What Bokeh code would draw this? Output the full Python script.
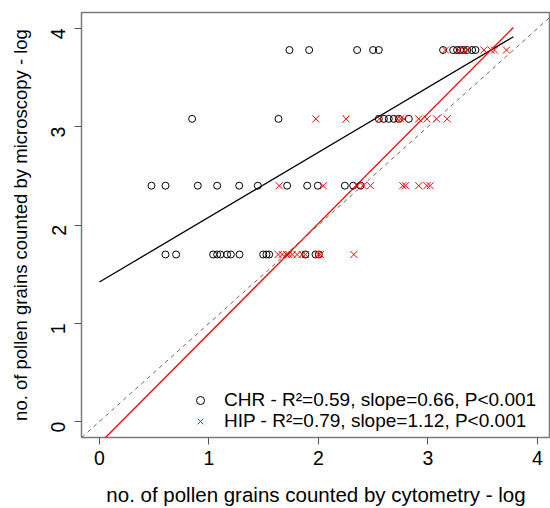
import math
from bokeh.plotting import figure
from bokeh.models import Range1d, Slope, Legend, LegendItem, FixedTicker
from bokeh.embed import file_html
from bokeh.resources import INLINE

# CHR (circles)
chr_x = [1.735, 1.915, 2.353, 2.499, 2.551, 3.138, 3.23, 3.266, 3.297, 3.327, 3.358, 3.403, 3.434,
         0.846, 1.635, 2.551, 2.597, 2.642, 2.688, 2.733, 2.825,
         0.475, 0.603, 0.898, 1.075, 1.276, 1.446, 1.714, 1.897, 1.994, 2.241, 2.317, 2.384,
         0.603, 0.70, 1.038, 1.075, 1.105, 1.166, 1.20, 1.279, 1.495, 1.525, 1.55, 1.88, 1.973, 2.003]
chr_y = [3.78] * 13 + [3.08] * 8 + [2.40] * 12 + [1.70] * 14

# HIP (crosses)
hip_x = [3.16, 3.28, 3.327, 3.358, 3.51, 3.577, 3.607, 3.717,
         1.976, 2.252, 2.557, 2.72, 2.75, 2.78, 2.916, 2.992, 3.078, 3.175,
         1.641, 2.043, 2.353, 2.408, 2.475, 2.77, 2.795, 2.916, 2.99, 3.02,
         1.632, 1.668, 1.708, 1.729, 1.76, 1.805, 1.851, 1.88, 1.997, 2.018, 2.323]
hip_y = [3.78] * 8 + [3.08] * 10 + [2.40] * 10 + [1.70] * 11

# Regression fits
chr_intercept, chr_slope = 1.42, 0.66
hip_intercept, hip_slope = -0.224, 1.12
fit_x = [0.0, 3.78]
chr_fit_y = [chr_intercept + chr_slope * v for v in fit_x]
hip_fit_y = [hip_intercept + hip_slope * v for v in fit_x]

ticks = [0, 1, 2, 3, 4]
chr_label = "CHR - R\u00b2=0.59, slope=0.66, P<0.001"
hip_label = "HIP - R\u00b2=0.79, slope=1.12, P<0.001"

FONT = "Liberation Sans"

p = figure(width=550, height=508, output_backend="svg", toolbar_location=None,
           x_range=Range1d(-0.164, 4.119), y_range=Range1d(-0.162, 4.162),
           min_border_left=81, min_border_right=0, min_border_top=12, min_border_bottom=69)
p.grid.visible = False
p.outline_line_color = "#7a7a7a"
p.outline_line_width = 1.5
p.background_fill_color = "white"
p.border_fill_color = "white"

for ax in (p.xaxis[0], p.yaxis[0]):
    ax.ticker = FixedTicker(ticks=ticks)
    ax.axis_line_color = None
    ax.major_tick_line_color = "#555555"
    ax.major_tick_line_width = 1
    ax.major_tick_in = 0
    ax.major_tick_out = 7
    ax.minor_tick_line_color = None
    ax.major_label_text_font = FONT
    ax.major_label_text_font_size = "19.5px"
    ax.major_label_text_color = "black"
    ax.axis_label_text_font = FONT
    ax.axis_label_text_font_style = "normal"
    ax.axis_label_text_color = "black"

p.xaxis.axis_label = "no. of pollen grains counted by cytometry - log"
p.yaxis.axis_label = "no. of pollen grains counted by microscopy - log"
p.xaxis.axis_label_text_font_size = "20.5px"
p.yaxis.axis_label_text_font_size = "18.5px"
p.xaxis.major_label_standoff = 6
p.xaxis.axis_label_standoff = 15
p.yaxis.major_label_orientation = math.pi / 2
p.yaxis.major_label_standoff = 16
p.yaxis.axis_label_standoff = 11

# 1:1 line
p.add_layout(Slope(gradient=1, y_intercept=0, line_color="#666666", line_dash="4 4", line_width=1))

p.line(fit_x, chr_fit_y, line_color="black", line_width=1.3)
p.line(fit_x, hip_fit_y, line_color="#ff0000", line_width=1.3)

r_chr = p.scatter(chr_x, chr_y, marker="circle", size=7, fill_color=None,
                  line_color="black", line_width=1)
r_hip = p.scatter(hip_x, hip_y, marker="x", size=10, line_color="#ff0000", line_width=1)

legend_kw = dict(padding=0, margin=0, spacing=0, glyph_width=20, glyph_height=20,
                 label_height=20, label_standoff=14, background_fill_alpha=0,
                 border_line_color=None, label_text_font=FONT,
                 label_text_font_size="19px", label_text_color="black")
legend_chr = Legend(items=[LegendItem(label=chr_label, renderers=[r_chr])],
                    location=(109, 26), **legend_kw)
legend_hip = Legend(items=[LegendItem(label=hip_label, renderers=[r_hip])],
                    location=(109, 5), **legend_kw)
p.add_layout(legend_chr)
p.add_layout(legend_hip)

open("out.html", "w").write(file_html(p, INLINE))
